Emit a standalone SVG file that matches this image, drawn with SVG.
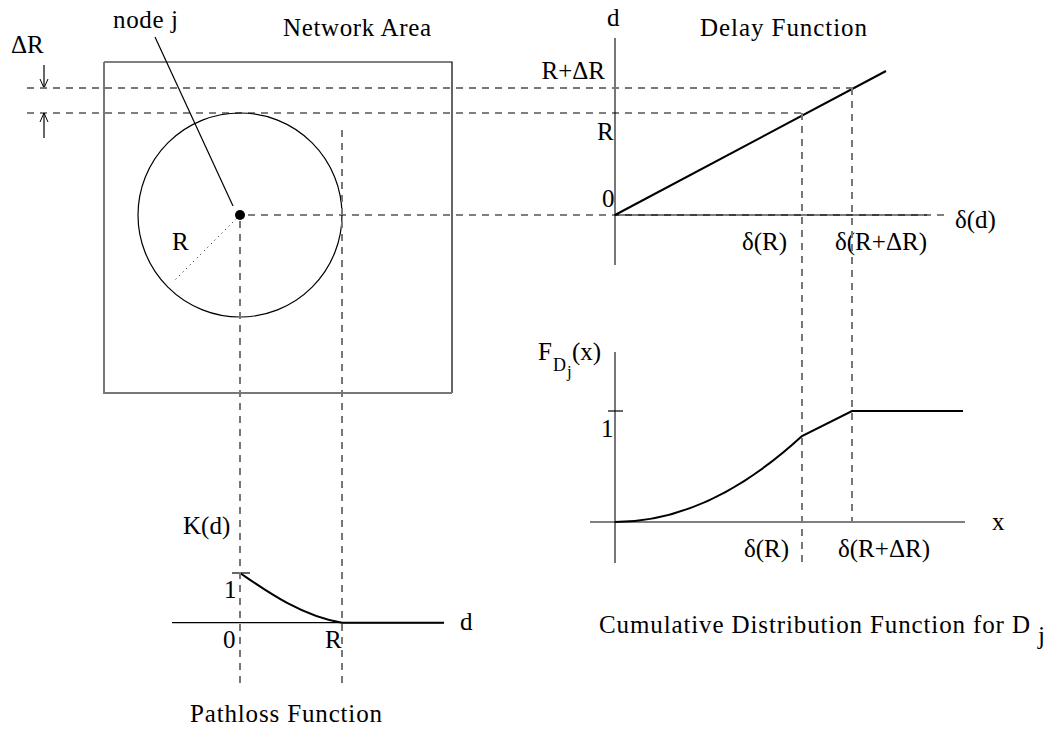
<svg xmlns="http://www.w3.org/2000/svg" width="1057" height="729" viewBox="0 0 1057 729">
<style>
text{font-family:"Liberation Serif","Times New Roman",serif;font-size:25px;fill:#000}
.k{stroke:#000;stroke-width:1.2;fill:none}
.kd{stroke:#000;stroke-width:1.2;fill:none;stroke-dasharray:7 6}
.g{stroke:#777;stroke-width:2;fill:none}
.gd{stroke:#777;stroke-width:2;fill:none;stroke-dasharray:7 6}
.c{stroke:#000;stroke-width:2;fill:none}
.sub{font-size:18px}
.sub2{font-size:17px}
</style>
<defs>
<marker id="ah" markerWidth="10" markerHeight="10" refX="9" refY="5" orient="auto" markerUnits="userSpaceOnUse">
<polyline points="0,1 9,5 0,9" fill="none" stroke="#000" stroke-width="1"/>
</marker>
</defs>
<rect width="1057" height="729" fill="#fff"/>

<g id="network-area">
<path class="k" d="M104,62 H452 V393"/>
<path class="g" d="M104,62 V393 H452"/>
<circle class="k" cx="240" cy="215" r="102"/>
<circle cx="240" cy="215" r="5" fill="#000"/>
<line class="k" x1="155" y1="37" x2="233" y2="206"/>
<line x1="240" y1="215" x2="175" y2="280" stroke="#000" stroke-width="1" stroke-dasharray="1 4"/>
<text x="113" y="28" textLength="65" lengthAdjust="spacing">node j</text>
<text x="283" y="36" textLength="148" lengthAdjust="spacing">Network Area</text>
<text x="172" y="250">R</text>
<text x="11" y="53">ΔR</text>
<line class="k" x1="44" y1="65" x2="44" y2="88" marker-end="url(#ah)"/>
<line class="k" x1="44" y1="138" x2="44" y2="113" marker-end="url(#ah)"/>
</g>

<g id="delay-function">
<line class="g" x1="615" y1="38" x2="615" y2="265"/>
<line class="k" x1="615" y1="215" x2="927" y2="215"/>
<line class="c" x1="615" y1="215" x2="886" y2="71"/>
<text x="607" y="26">d</text>
<text x="700" y="36" textLength="167" lengthAdjust="spacing">Delay Function</text>
<text x="605" y="79" text-anchor="end">R+ΔR</text>
<text x="597" y="140">R</text>
<text x="602" y="207">0</text>
<text x="955" y="228">δ(d)</text>
<text x="742" y="250">δ(R)</text>
<text x="835" y="250">δ(R+ΔR)</text>
</g>

<g id="cdf">
<line class="g" x1="615" y1="352" x2="615" y2="563"/>
<line class="k" x1="590" y1="522" x2="965" y2="522"/>
<line class="k" x1="608" y1="411" x2="623" y2="411"/>
<path class="c" d="M615,522 Q708.5,522 802,436 L852,411 H963"/>
<text x="538" y="360">F</text>
<text x="553" y="371" class="sub">D</text>
<text x="567" y="377" class="sub2">j</text>
<text x="572" y="360" font-size="22">(x)</text>
<text x="601" y="437">1</text>
<text x="992" y="530">x</text>
<text x="744" y="557">δ(R)</text>
<text x="838" y="557">δ(R+ΔR)</text>
<text x="599" y="633" textLength="431" lengthAdjust="spacing">Cumulative Distribution Function for D</text>
<text x="1038" y="644">j</text>
</g>

<g id="pathloss">
<line class="k" x1="172" y1="622.7" x2="444" y2="622.7"/>
<line class="k" x1="232" y1="573" x2="250" y2="573"/>
<path class="c" d="M240,573 C262,588 300,616 342,622.7 H444"/>
<text x="183" y="534">K(d)</text>
<text x="224" y="598">1</text>
<text x="223" y="648">0</text>
<text x="325" y="648">R</text>
<text x="460" y="630">d</text>
<text x="190" y="722" textLength="192" lengthAdjust="spacing">Pathloss Function</text>
</g>

<g id="connectors">
<line class="gd" x1="27" y1="88" x2="852" y2="88"/>
<line class="kd" x1="27" y1="113" x2="802" y2="113"/>
<line class="kd" x1="248" y1="215" x2="945" y2="215"/>
<line class="gd" x1="240" y1="221" x2="240" y2="684"/>
<line class="gd" x1="342" y1="130" x2="342" y2="684"/>
<line class="gd" x1="802" y1="113" x2="802" y2="565"/>
<line class="gd" x1="852" y1="88" x2="852" y2="522"/>
</g>
</svg>
